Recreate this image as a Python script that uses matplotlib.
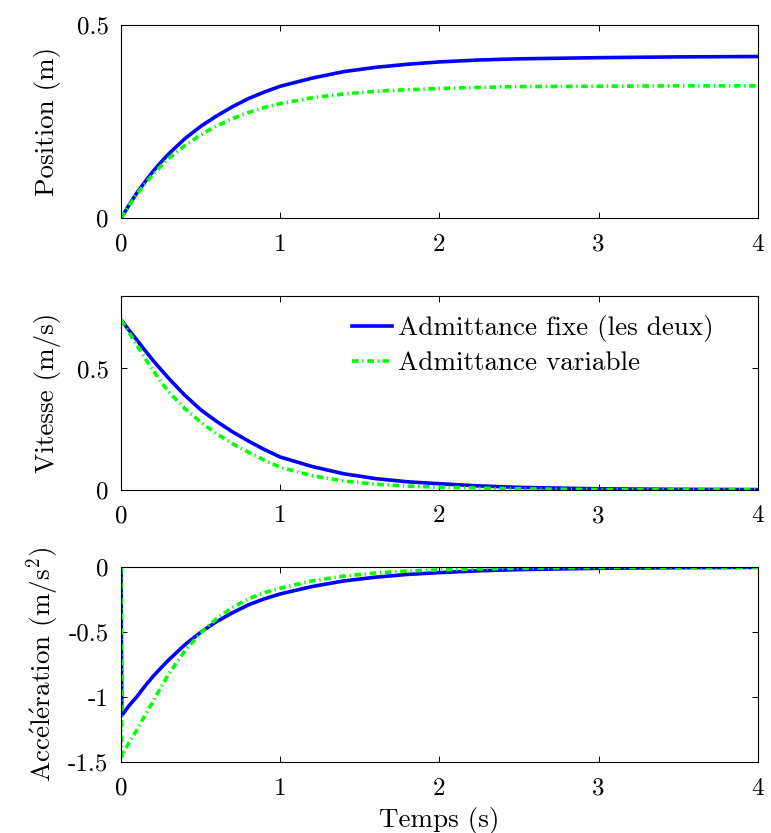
import matplotlib
matplotlib.use("Agg")
import matplotlib.pyplot as plt

plt.rcParams['font.family'] = 'serif'
plt.rcParams['font.serif'] = ['cmr10']
plt.rcParams['mathtext.fontset'] = 'cm'
plt.rcParams['axes.unicode_minus'] = False
plt.rcParams['axes.formatter.use_mathtext'] = True
plt.rcParams['lines.scale_dashes'] = False

# temps (s)
t = [0, 0.005, 0.05, 0.1, 0.15, 0.2, 0.25, 0.3, 0.4, 0.5, 0.6, 0.7, 0.8, 0.9, 1.0,
     1.2, 1.4, 1.6, 1.8, 2.0, 2.25, 2.5, 3.0, 3.5, 4.0]

# position (m)
pos_fixe = [0, 0.0035, 0.034, 0.066, 0.094, 0.121, 0.145, 0.167, 0.206, 0.238, 0.265, 0.289, 0.310,
            0.327, 0.342, 0.363, 0.380, 0.391, 0.399, 0.405, 0.410, 0.413, 0.416, 0.418, 0.419]
pos_var = [0, 0.0035, 0.033, 0.0625, 0.089, 0.113, 0.135, 0.155, 0.188, 0.216, 0.239, 0.258, 0.274,
           0.287, 0.297, 0.312, 0.322, 0.329, 0.333, 0.336, 0.339, 0.341, 0.342, 0.343, 0.343]

# vitesse (m/s)
vit_fixe = [0.70, 0.697, 0.658, 0.617, 0.575, 0.534, 0.496, 0.459, 0.390, 0.330, 0.282, 0.239, 0.201,
            0.166, 0.135, 0.096, 0.066, 0.046, 0.033, 0.025, 0.016, 0.010, 0.004, 0.002, 0.001]
vit_var = [0.70, 0.695, 0.648, 0.596, 0.543, 0.493, 0.446, 0.403, 0.335, 0.279, 0.231, 0.190, 0.155,
           0.122, 0.093, 0.058, 0.036, 0.023, 0.015, 0.011, 0.007, 0.004, 0.001, 0.0, 0.0]

# acceleration (m/s^2)
acc_fixe = [0, -1.141, -1.065, -0.995, -0.915, -0.841, -0.775, -0.712, -0.597, -0.500, -0.418, -0.350,
            -0.289, -0.243, -0.205, -0.148, -0.105, -0.076, -0.055, -0.041, -0.027, -0.018, -0.008,
            -0.003, -0.001]
acc_var = [0, -1.456, -1.350, -1.251, -1.140, -1.033, -0.925, -0.820, -0.645, -0.505, -0.395, -0.310,
           -0.243, -0.195, -0.161, -0.105, -0.068, -0.044, -0.029, -0.020, -0.012, -0.007, -0.002,
           -0.001, 0.0]

x_ticks = [0, 1, 2, 3, 4]
x_labels = ['0', '1', '2', '3', '4']

label_fixe = "Admittance fixe (les deux)"
label_var = "Admittance variable"

fig = plt.figure(figsize=(7.71, 8.33), dpi=100)
ax1 = fig.add_axes([0.157, 0.738, 0.826, 0.2317])
ax2 = fig.add_axes([0.157, 0.412, 0.826, 0.233])
ax3 = fig.add_axes([0.157, 0.085, 0.826, 0.234])

dash = (4.8, 2.6, 1.0, 2.6)
panels = [
    (ax1, pos_fixe, pos_var, (0, 0.5), [0, 0.5], ['0', '0.5'], "Position (m)"),
    (ax2, vit_fixe, vit_var, (0, 0.8), [0, 0.5], ['0', '0.5'], "Vitesse (m/s)"),
    (ax3, acc_fixe, acc_var, (-1.5, 0), [-1.5, -1, -0.5, 0], ['-1.5', '-1', '-0.5', '0'],
     r"Acc$\acute{\mathrm{e}}$l$\acute{\mathrm{e}}$ration (m/$\mathrm{s}^2$)"),
]

for ax, y_fixe, y_var, ylim, yt, ytl, ylab in panels:
    ax.plot(t, y_fixe, color=(0, 0, 1), lw=2.6, label=label_fixe)
    l, = ax.plot(t, y_var, color=(0, 1, 0), lw=2.6, label=label_var, dash_capstyle='butt')
    l.set_dashes(dash)
    ax.set_xlim(0, 4)
    ax.set_ylim(*ylim)
    ax.set_xticks(x_ticks)
    ax.set_xticklabels(x_labels)
    ax.set_yticks(yt)
    ax.set_yticklabels(ytl)
    ax.tick_params(direction='in', top=True, right=True, length=4, width=0.7, labelsize=18)
    ax.tick_params(axis='x', pad=11)
    ax.tick_params(axis='y', pad=9)
    for s in ax.spines.values():
        s.set_linewidth(0.8)
    ax.set_ylabel(ylab, fontsize=19.5)
    ax.yaxis.set_label_coords(-0.095, 0.5)

ax3.set_xlabel("Temps (s)", fontsize=19.5, labelpad=5)

leg = ax2.legend(loc='upper right', bbox_to_anchor=(0.969, 1.026), frameon=False, fontsize=19.5,
                 handlelength=1.5, handletextpad=0.22, labelspacing=0.35)

fig.savefig("out.png", dpi=100)
